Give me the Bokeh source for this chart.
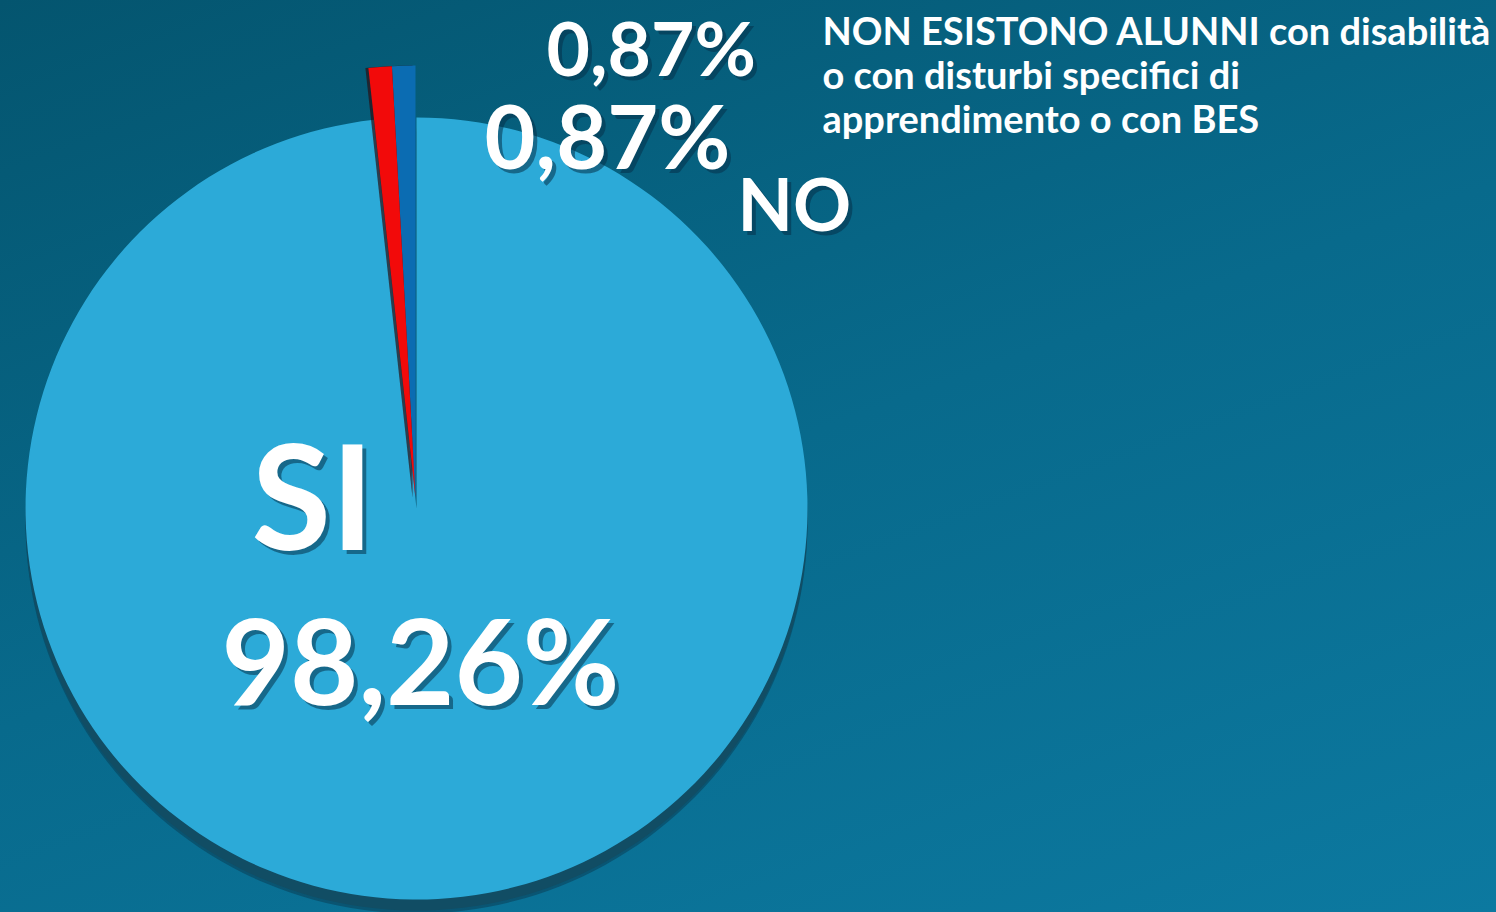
import numpy as np
from bokeh.plotting import figure
from bokeh.models import Range1d, ColumnDataSource, GlobalInlineStyleSheet
from bokeh.core.properties import value
from bokeh.embed import file_html
from bokeh.resources import INLINE

# ---- data ----
categories = ["NON ESISTONO ALUNNI con disabilità o con disturbi specifici di apprendimento o con BES", "NO", "SI"]
values = [0.87, 0.87, 98.26]
labels = ["0,87%", "0,87%", "98,26%"]
colors = ["#0b6cb2", "#f20a0a", "#2caad8"]
legend_lines = ["NON ESISTONO ALUNNI con disabilità",
                "o con disturbi specifici di",
                "apprendimento o con BES"]

W, H = 1496, 912
FONT = value("Lato")

p = figure(width=W, height=H, output_backend="svg", toolbar_location=None,
           x_range=Range1d(0, W), y_range=Range1d(0, H),
           x_axis_location=None, y_axis_location=None, min_border=0,
           background_fill_alpha=0, border_fill_alpha=0, outline_line_color=None)
p.grid.visible = False
p.stylesheets = [GlobalInlineStyleSheet(css="html,body{margin:0;overflow:hidden;background:linear-gradient(160deg,#04556f 0%,#086a8c 50%,#0c79a0 100%);}")]

vals = np.array(values)
frac = vals / vals.sum() * 2 * np.pi
start = np.pi / 2 + np.concatenate([[0], np.cumsum(frac)[:-1]])
end = start + frac

cx, cy, r = 416, 404, 391          # main pie
ex, ey, er = 415, 415, 432         # exploded small slices

main = ColumnDataSource(dict(s=start[2:], e=end[2:], c=colors[2:]))
small = ColumnDataSource(dict(s=start[:2], e=end[:2], c=colors[:2]))

# depth / shadow of the main pie
p.wedge(x=cx, y=cy - 14, radius=r, start_angle="s", end_angle="e", source=main,
        fill_color="#0a3a50", fill_alpha=0.5, line_color=None)
p.wedge(x=cx, y=cy - 11, radius=r, start_angle="s", end_angle="e", source=main,
        fill_color="#114d64", line_color=None)
p.wedge(x=cx, y=cy, radius=r, start_angle="s", end_angle="e", source=main,
        fill_color="c", line_color=None)

# exploded slices with dark side
p.wedge(x=ex - 3, y=ey, radius=er, start_angle="s", end_angle="e", source=small,
        fill_color="#2a0f14", fill_alpha=0.7, line_color=None)
p.wedge(x=ex, y=ey, radius=er, start_angle="s", end_angle="e", source=small,
        fill_color="c", line_color=None)

def label(x, y, txt, size):
    src = ColumnDataSource(dict(x=[x], y=[y], t=[txt]))
    p.text(x="x", y="y", text="t", source=src, text_font=FONT, text_font_style="bold",
           text_font_size=size, text_color="#06324a", text_alpha=0.55,
           text_baseline="alphabetic", x_offset=4, y_offset=4)
    p.text(x="x", y="y", text="t", source=src, text_font=FONT, text_font_style="bold",
           text_font_size=size, text_color="white", text_baseline="alphabetic")

label(546, 866, labels[0], "75px")
label(484, 778, labels[1], "88px")
label(737, 710, categories[1], "72px")
label(251, 419, categories[2], "145px")
label(221, 253, labels[2], "118px")

ly = [883, 839, 795]
p.text(x=[822] * 3, y=ly, text=legend_lines, text_font=FONT, text_font_style="bold",
       text_font_size="38px", text_color="white", text_baseline="alphabetic")

open("out.html", "w").write(file_html(p, INLINE))
